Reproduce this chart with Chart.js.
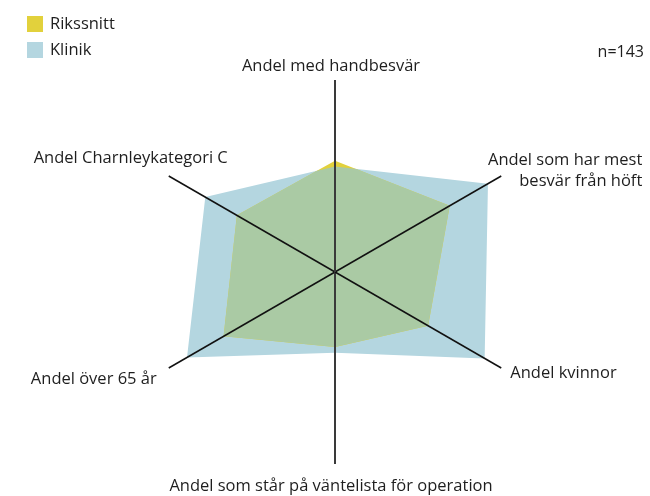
<!DOCTYPE html>
<html>
<head>
<meta charset="utf-8">
<script src="https://cdn.jsdelivr.net/npm/chart.js@4/dist/chart.umd.min.js"></script>
<style>
html,body{margin:0;padding:0;background:#fff;}
#wrap{width:650px;height:496px;position:relative;}
</style>
</head>
<body>
<div id="wrap"><canvas id="c" width="650" height="496"></canvas></div>
<script>
const categories = [
  "Andel med handbesvär",
  ["Andel som har mest", "besvär från höft"],
  "Andel kvinnor",
  "Andel som står på väntelista för operation",
  "Andel över 65 år",
  "Andel Charnleykategori C"
];
const seriesNames = ["Rikssnitt", "Klinik"];
const rikssnitt = [58, 69, 56, 39, 67, 59];
const klinik = [55, 92, 90, 42, 89, 78];
const nText = "n=143";

const YELLOW = "#e2d13c";
const BLUE = "#b4d6e0";
const GREEN = "#aacaa4";
const TEXT = "#1e1e1e";
const FONT = "16.5px 'Open Sans', sans-serif";
const NFONT = "16px 'Open Sans', sans-serif";

// label placement relative to axis end point
const labelPlace = [
  {align: "center", dx: -4, dy: -14},
  {align: "right", dx: 141, dy: -16},
  {align: "left", dx: 9, dy: 5},
  {align: "center", dx: -4, dy: 22},
  {align: "right", dx: -12, dy: 11},
  {align: "right", dx: 59, dy: -18}
];

const overlapPlugin = {
  id: "overlap",
  afterDatasetsDraw(chart) {
    const ctx = chart.ctx;
    const mk = chart.getDatasetMeta(1).data;
    const mr = chart.getDatasetMeta(0).data;
    ctx.save();
    ctx.beginPath();
    mk.forEach((p, i) => i ? ctx.lineTo(p.x, p.y) : ctx.moveTo(p.x, p.y));
    ctx.closePath();
    ctx.clip();
    ctx.beginPath();
    mr.forEach((p, i) => i ? ctx.lineTo(p.x, p.y) : ctx.moveTo(p.x, p.y));
    ctx.closePath();
    ctx.fillStyle = GREEN;
    ctx.fill();
    ctx.restore();
  },
  afterDraw(chart) {
    const ctx = chart.ctx;
    const s = chart.scales.r;
    ctx.save();
    ctx.font = FONT;
    ctx.fillStyle = TEXT;
    ctx.textBaseline = "middle";
    categories.forEach((lab, i) => {
      const p = s.getPointPosition(i, s.drawingArea);
      const pl = labelPlace[i];
      ctx.textAlign = pl.align;
      const lines = Array.isArray(lab) ? lab : [lab];
      lines.forEach((t, j) => ctx.fillText(t, p.x + pl.dx, p.y + pl.dy + j * 21));
    });
    // legend
    const cols = [YELLOW, BLUE];
    ctx.textAlign = "left";
    seriesNames.forEach((n, i) => {
      ctx.fillStyle = cols[i];
      ctx.fillRect(27, 16 + i * 26, 16, 16);
      ctx.fillStyle = TEXT;
      ctx.fillText(n, 50, 24 + i * 26);
    });
    ctx.font = NFONT;
    ctx.textAlign = "right";
    ctx.fillText(nText, 644, 52);
    ctx.restore();
  }
};

new Chart(document.getElementById("c"), {
  type: "radar",
  data: {
    labels: categories,
    datasets: [
      {label: seriesNames[0], data: rikssnitt, backgroundColor: YELLOW, borderWidth: 0, pointRadius: 0, fill: true},
      {label: seriesNames[1], data: klinik, backgroundColor: BLUE, borderWidth: 0, pointRadius: 0, fill: true}
    ]
  },
  options: {
    responsive: false,
    animation: false,
    layout: {padding: {top: 80, bottom: 32, left: 20, right: 0}},
    plugins: {legend: {display: false}, tooltip: {enabled: false}},
    elements: {line: {tension: 0}},
    scales: {
      r: {
        z: 1,
        min: 0, max: 100,
        ticks: {display: false},
        grid: {display: false, z: 1},
        pointLabels: {display: false},
        angleLines: {
          display: true,
          color: (c) => (c.index % 3 === 0 ? "#3a3a3a" : "#111"),
          lineWidth: (c) => (c.index % 3 === 0 ? 2 : 1.5)
        }
      }
    }
  },
  plugins: [overlapPlugin]
});
</script>
</body>
</html>
